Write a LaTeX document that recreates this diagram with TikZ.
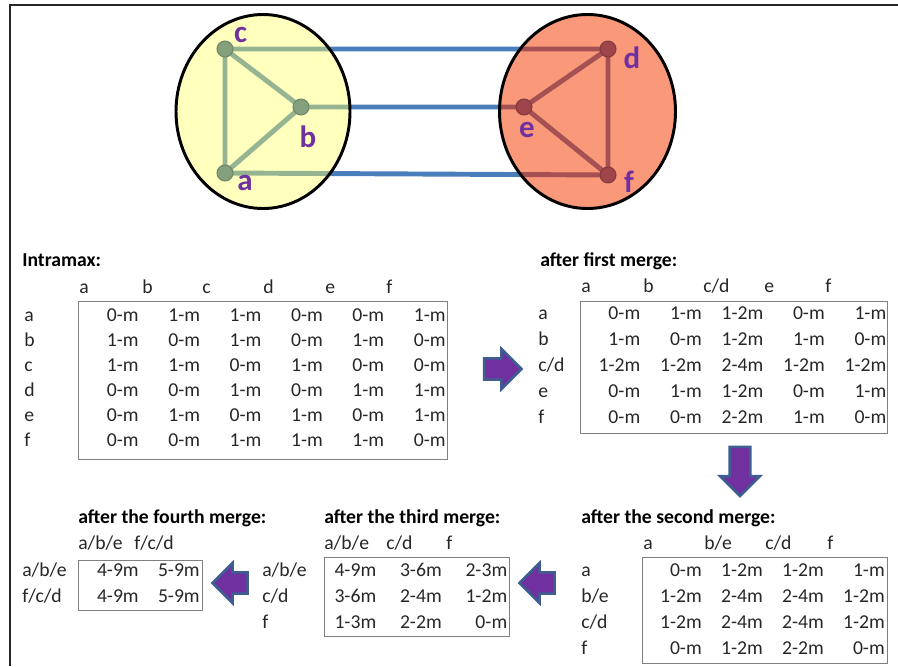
\documentclass[tikz,border=0pt]{standalone}
\usepackage{fontspec}
\setmainfont{Carlito}
\usepackage{tikz}
\usetikzlibrary{shapes.arrows}
\definecolor{clyellow}{RGB}{255,255,190}
\definecolor{clsalmon}{RGB}{250,152,122}
\definecolor{greenedge}{RGB}{150,180,145}
\definecolor{greennode}{RGB}{132,160,124}
\definecolor{rededge}{RGB}{165,80,82}
\definecolor{rednode}{RGB}{158,68,74}
\definecolor{linkblue}{RGB}{74,126,187}
\definecolor{mypurple}{RGB}{112,48,160}
\definecolor{arrowedge}{RGB}{62,94,145}
\definecolor{txtgray}{RGB}{38,38,38}

\tikzset{
  cell/.style={font=\fontsize{14}{17}\selectfont, text=txtgray, inner sep=0pt},
  val/.style={cell, anchor=mid east},
  lab/.style={cell, anchor=mid west},
  head/.style={cell, anchor=mid west, font=\fontsize{14}{17}\selectfont\bfseries, text=black},
  tbox/.style={draw=black!50, line width=0.7pt},
  link/.style={linkblue, line width=3.5pt},
  gedge/.style={greenedge, line width=3.5pt},
  redge/.style={rededge, line width=3.5pt},
  gnode/.style={circle, fill=greennode, draw=greennode!85!black, line width=0.8pt,
    minimum size=11.3pt, inner sep=0pt},
  rnode/.style={circle, fill=rednode, draw=rednode!85!black, line width=0.8pt,
    minimum size=11.3pt, inner sep=0pt},
  vlabel/.style={font=\fontsize{22}{24}\selectfont\bfseries, text=mypurple, inner sep=0pt},
  mergearrow/.style={single arrow, draw=arrowedge, fill=mypurple, line width=1.8pt,
    inner xsep=0pt, inner ysep=6.6pt, outer sep=0pt, single arrow head extend=6.8pt,
    single arrow tip angle=90, anchor=tip}
}

\begin{document}
\begin{tikzpicture}[x=0.025cm, y=-0.025cm]
  \useasboundingbox (0,0) rectangle (898,666);
  \draw[black!85, line width=1.4pt] (10,666) -- (10,5) -- (898,5);

  % clusters
  \coordinate (c) at (225,49);
  \coordinate (b) at (301,107);
  \coordinate (a) at (225,173);
  \coordinate (d) at (608,49);
  \coordinate (e) at (524,107);
  \coordinate (f) at (608,175);
  \draw[link] (c) -- (d) (b) -- (e) (a) -- (f);
  \fill[clyellow] (263,111.5) ellipse [x radius=87, y radius=97];
  \fill[clsalmon] (587.5,111.5) ellipse [x radius=88, y radius=97];
  \begin{scope}
    \clip (263,111.5) ellipse [x radius=87, y radius=97];
    \draw[gedge] (c) -- (d) (b) -- (e) (a) -- (f);
  \end{scope}
  \begin{scope}
    \clip (587.5,111.5) ellipse [x radius=88, y radius=97];
    \draw[redge] (c) -- (d) (b) -- (e) (a) -- (f);
  \end{scope}
  \draw[gedge] (c) -- (a) (c) -- (b) (b) -- (a);
  \draw[redge] (d) -- (e) (e) -- (f) (d) -- (f);
  \draw[line width=2.1pt] (263,111.5) ellipse [x radius=87, y radius=97];
  \draw[line width=2.1pt] (587.5,111.5) ellipse [x radius=88, y radius=97];
  \foreach \n in {a,b,c}
    \node[gnode] (n\n) at (\n) {};
  \foreach \n in {d,e,f}
    \node[rnode] (n\n) at (\n) {};
  \node[vlabel] (lc) at (240.5,35) {c};
  \node[vlabel] (lb) at (308,137) {b};
  \node[vlabel] (la) at (245,183) {a};
  \node[vlabel] (ld) at (632,58) {d};
  \node[vlabel] (le) at (527,130) {e};
  \node[vlabel] (lf) at (629,182) {f};

  % Intramax
  \node[head] (hintra) at (22,263) {Intramax:};
  \foreach \l/\x in {a/79,b/142,c/202,d/263,e/325,f/386}
    \node[lab] (ic\l) at (\x,290) {\l};
  \draw[tbox] (78,301) rectangle (447,459);
  \foreach \l [count=\i] in {a,b,c,d,e,f}
    \node[lab] (ir\l) at (24,{293+25*\i}) {\l};
  \foreach \row [count=\i] in {{0,1,1,0,0,1},{1,0,1,0,1,0},{1,1,0,1,0,0},
                               {0,0,1,0,1,1},{0,1,0,1,0,1},{0,0,1,1,1,0}}
    \foreach \v [count=\j] in \row
      \node[val] (iv\i\j) at ({77.5+61.4*\j},{293+25*\i}) {\v-m};

  % first merge
  \node[head] (hfirst) at (540,263) {after first merge:};
  \foreach \l/\x [count=\i] in {a/581,b/643,c\slash d/703,e/764,f/825}
    \node[lab] (fc\i) at (\x,289) {\l};
  \draw[tbox] (580,301) rectangle (887,433);
  \foreach \l [count=\i] in {a,b,c/d,e,f}
    \node[lab] (fr\i) at (538,{290+26*\i}) {\l};
  \foreach \row [count=\i] in {{0-m,1-m,1-2m,0-m,1-m},{1-m,0-m,1-2m,1-m,0-m},
                               {1-2m,1-2m,2-4m,1-2m,1-2m},{0-m,1-m,1-2m,0-m,1-m},
                               {0-m,0-m,2-2m,1-m,0-m}}
    \foreach \v [count=\j] in \row
      \node[val] (fv\i\j) at ({579+61.5*\j},{290+26*\i}) {\v};

  % second merge
  \node[head] (hsecond) at (581,520) {after the second merge:};
  \foreach \l/\x [count=\i] in {a/643,b\slash e/704,c\slash d/765,f/827}
    \node[lab] (sc\i) at (\x,546) {\l};
  \draw[tbox] (642,557) rectangle (887,663);
  \foreach \l [count=\i] in {a,b/e,c/d,f}
    \node[lab] (sr\i) at (581,{547+26*\i}) {\l};
  \foreach \row [count=\i] in {{0-m,1-2m,1-2m,1-m},{1-2m,2-4m,2-4m,1-2m},
                               {1-2m,2-4m,2-4m,1-2m},{0-m,1-2m,2-2m,0-m}}
    \foreach \v [count=\j] in \row
      \node[val] (sv\i\j) at ({641+61*\j},{547+26*\i}) {\v};

  % third merge
  \node[head] (hthird) at (324,520) {after the third merge:};
  \foreach \l/\x [count=\i] in {a\slash b\slash e/324,c\slash d/386,f/446}
    \node[lab] (tc\i) at (\x,546) {\l};
  \draw[tbox] (324,557) rectangle (509,636);
  \foreach \l [count=\i] in {a/b/e,c/d,f}
    \node[lab] (tr\i) at (262,{547+26*\i}) {\l};
  \foreach \row [count=\i] in {{4-9m,3-6m,2-3m},{3-6m,2-4m,1-2m},{1-3m,2-2m,0-m}}
    \foreach \v [count=\j] in \row
      \node[val] (tv\i\j) at ({311+65.5*\j},{547+26*\i}) {\v};

  % fourth merge
  \node[head] (hfourth) at (78,520) {after the fourth merge:};
  \node[lab] (qc1) at (78,546) {a/b/e};
  \node[lab] (qc2) at (134,546) {f/c/d};
  \draw[tbox] (78,560) rectangle (202,610);
  \foreach \l [count=\i] in {a/b/e,f/c/d}
    \node[lab] (qr\i) at (22,{547+26*\i}) {\l};
  \foreach \row [count=\i] in {{4-9m,5-9m},{4-9m,5-9m}}
    \foreach \v [count=\j] in \row
      \node[val] (qv\i\j) at ({78+61*\j},{547+26*\i}) {\v};

  % merge arrows
  \node[mergearrow, minimum height=26.5pt] (arr1) at (521.5,369) {};
  \node[mergearrow, minimum height=35pt, inner xsep=6.4pt, inner ysep=0pt,
    shape border rotate=270] (arr2) at (740,496) {};
  \node[mergearrow, minimum height=25pt, shape border rotate=180] (arr3) at (519.5,583) {};
  \node[mergearrow, minimum height=25pt, shape border rotate=180] (arr4) at (212.5,583) {};
\end{tikzpicture}
\end{document}
